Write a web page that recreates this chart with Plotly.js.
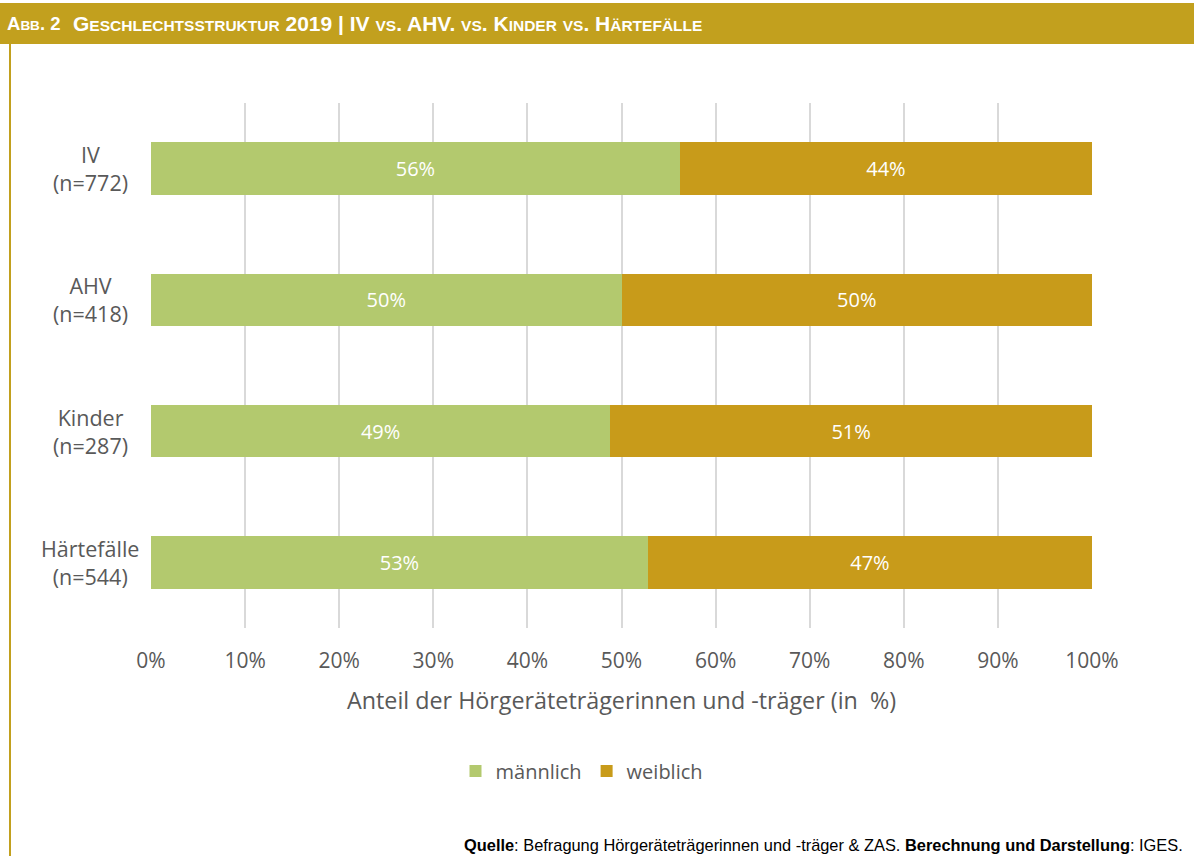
<!DOCTYPE html>
<html>
<head>
<meta charset="utf-8">
<script src="https://cdn.plot.ly/plotly-3.0.1.min.js"></script>
<style>html,body{margin:0;padding:0;background:#fff;}#chart{width:1194px;height:856px;}</style>
</head>
<body>
<div id="chart"></div>
<script>
const categories = ['IV', 'AHV', 'Kinder', 'Härtefälle'];
const sampleSizes = [772, 418, 287, 544];
const maennlich = [56.2, 50.0, 48.8, 52.8];
const weiblich = [43.8, 50.0, 51.2, 47.2];
const xTickVals = [0, 10, 20, 30, 40, 50, 60, 70, 80, 90, 100];
const xTickText = ['0%', '10%', '20%', '30%', '40%', '50%', '60%', '70%', '80%', '90%', '100%'];

const W = 1194, H = 856;
const M = {l: 151, r: 102, t: 103, b: 228};
const PW = W - M.l - M.r, PH = H - M.t - M.b;
const px = v => (v - M.l) / PW;
const py = v => (H - M.b - v) / PH;

const gold = '#C2A01E';
const green = '#B3C96E';
const amber = '#C89B1A';
const bodyFont = 'Open Sans, Noto Sans, sans-serif';
const narrow = 'Liberation Sans Narrow, Liberation Sans, sans-serif';

// small-caps helper: capitals full size, lowercase rendered as smaller capitals
function smallCaps(str, small) {
  let out = '', buf = '';
  for (const ch of str) {
    if (ch === ch.toLowerCase() && ch !== ch.toUpperCase()) {
      buf += ch.toUpperCase();
    } else {
      if (buf) { out += '<span style="font-size:' + small + 'px">' + buf + '</span>'; buf = ''; }
      out += ch;
    }
  }
  if (buf) out += '<span style="font-size:' + small + 'px">' + buf + '</span>';
  return out;
}

const traces = [
  {type: 'bar', orientation: 'h', name: 'männlich', y: categories, x: maennlich,
   marker: {color: green}, texttemplate: '%{x:.0f}%', textposition: 'inside',
   insidetextanchor: 'middle', textfont: {color: '#ffffff', size: 20, family: bodyFont},
   hoverinfo: 'skip'},
  {type: 'bar', orientation: 'h', name: 'weiblich', y: categories, x: weiblich,
   marker: {color: amber}, texttemplate: '%{x:.0f}%', textposition: 'inside',
   insidetextanchor: 'middle', textfont: {color: '#ffffff', size: 20, family: bodyFont},
   hoverinfo: 'skip'}
];

const annotations = categories.map((c, i) => ({
  xref: 'paper', yref: 'y', x: px(90), y: c, xanchor: 'center', yanchor: 'middle',
  text: c + '<br>(n=' + sampleSizes[i] + ')', showarrow: false, align: 'center',
  font: {family: bodyFont, size: 21.5, color: '#595959'}
}));

annotations.push(
  {xref: 'paper', yref: 'paper', x: px(621), y: py(700), xanchor: 'center', yanchor: 'middle',
   text: 'Anteil der Hörgeräteträgerinnen und -träger (in  %)', showarrow: false,
   font: {family: bodyFont, size: 23.3, color: '#595959'}},
  {xref: 'paper', yref: 'paper', x: px(5), y: py(23), xanchor: 'left', yanchor: 'middle',
   text: '<b>' + smallCaps('Abb. 2', 13.5) + '</b>', showarrow: false,
   font: {family: narrow, size: 18.5, color: '#ffffff'}},
  {xref: 'paper', yref: 'paper', x: px(71), y: py(23), xanchor: 'left', yanchor: 'middle',
   text: '<b>' + smallCaps('Geschlechtsstruktur 2019 | IV vs. AHV. vs. Kinder vs. Härtefälle', 15.5) + '</b>', showarrow: false,
   font: {family: narrow, size: 21, color: '#ffffff'}},
  {xref: 'paper', yref: 'paper', x: px(1185), y: py(845), xanchor: 'right', yanchor: 'middle',
   text: '<b>Quelle</b>: Befragung Hörgeräteträgerinnen und -träger &amp; ZAS. <b>Berechnung und Darstellung</b>: IGES.',
   showarrow: false, font: {family: narrow, size: 16.4, color: '#000000'}}
);

const shapes = [
  {type: 'rect', xref: 'paper', yref: 'paper', x0: px(0), x1: px(W), y0: py(44), y1: py(3),
   fillcolor: gold, line: {width: 0}, layer: 'below'},
  {type: 'line', xref: 'paper', yref: 'paper', x0: px(10), x1: px(10), y0: py(44), y1: py(H),
   line: {color: gold, width: 2}}
];

const layout = {
  width: W, height: H, margin: M,
  paper_bgcolor: '#ffffff', plot_bgcolor: '#ffffff',
  barmode: 'stack', bargap: 0.6,
  showlegend: true,
  legend: {orientation: 'h', xref: 'paper', x: px(582), xanchor: 'center', y: py(771), yanchor: 'middle',
           font: {family: bodyFont, size: 20, color: '#595959'}, itemwidth: 30, traceorder: 'normal'},
  xaxis: {range: [0, 100], tickvals: xTickVals, ticktext: xTickText, showgrid: true,
          gridcolor: '#D9D9D9', gridwidth: 2, zeroline: false, showline: false, ticks: '',
          tickfont: {family: bodyFont, size: 21, color: '#595959'}, ticklabelstandoff: 18, fixedrange: true},
  yaxis: {categoryorder: 'array', categoryarray: categories, autorange: 'reversed',
          showticklabels: false, showgrid: false, zeroline: false, showline: false, ticks: '', fixedrange: true},
  annotations: annotations,
  shapes: shapes
};

Plotly.newPlot('chart', traces, layout, {displayModeBar: false, staticPlot: true});
</script>
</body>
</html>
